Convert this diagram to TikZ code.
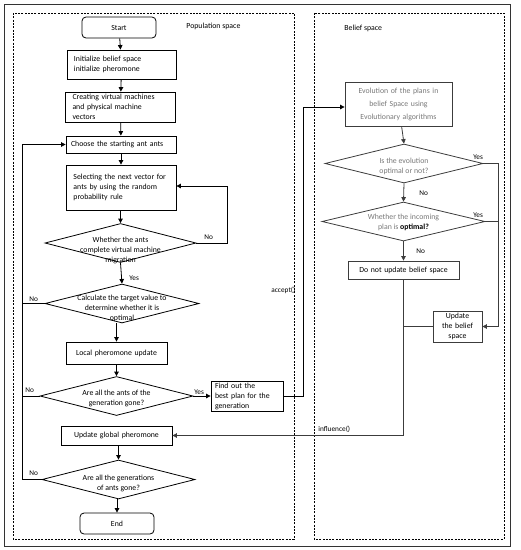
\documentclass[tikz,border=0pt]{standalone}
\usepackage{fontspec}
\setmainfont{Carlito}
\usepackage{tikz}
\usetikzlibrary{arrows.meta,shapes.geometric,positioning}
\definecolor{lightgrey}{RGB}{120,120,120}
\definecolor{linegrey} {RGB}{60,60,60}
\tikzset{
  procbox/.style={draw, align=left, font=\fontsize{7.8}{10}\selectfont,
                  inner sep=0pt, text width=#1},
  procbox/.default=2.4cm,
  termbox/.style={draw, rounded corners=4pt, font=\fontsize{7.8}{10}\selectfont,
                  minimum width=74pt, minimum height=21pt, inner sep=1pt},
  decision/.style={draw, diamond, inner sep=0pt, minimum width=#1,
                   minimum height=39pt},
  dtext/.style={align=center, font=\fontsize{7.8}{10}\selectfont,
                inner sep=0pt},
  lbl/.style={font=\fontsize{7.3}{8}\selectfont, inner sep=1pt},
  spacebox/.style={draw, dash pattern=on 2pt off 1.3pt, line width=0.8pt},
  arr/.style={-{Triangle[length=4.5pt,width=4.5pt]}, line width=0.8pt},
  ln/.style={line width=0.8pt},
}
\begin{document}
\begin{tikzpicture}[x=1pt,y=-1pt,line width=0.8pt]
  \useasboundingbox (0,0) rectangle (521,550);
  \draw[line width=1pt, black!80] (4,4) rectangle (510,546);
  % the two spaces
  \draw[spacebox] (13,13) rectangle (294,539);
  \draw[spacebox] (314,13) rectangle (504,539);
  \node[lbl, font=\fontsize{7.8}{9}\selectfont, anchor=west] (poplbl) at (185,26) {Population space};
  \node[lbl, font=\fontsize{7.8}{9}\selectfont, anchor=west] (beliefl) at (343,28) {Belief space};

  %% population space
  \node[termbox] (start) at (119,27.5) {Start};
  \node[procbox=95pt, minimum width=109pt, minimum height=29pt, inner xsep=7pt]
       (init) at (121.5,64.5) {Initialize belief space\\initialize pheromone};
  \node[procbox=96pt, minimum width=110pt, minimum height=30pt, inner xsep=7pt]
       (vms) at (120.5,107) {Creating virtual machines\\and physical machine\\vectors};
  \node[procbox=100pt, minimum width=110pt, minimum height=17pt, inner xsep=5pt]
       (choose) at (121,144.5) {Choose the starting ant ants};
  \node[procbox=95pt, minimum width=110pt, minimum height=45pt, inner xsep=7.5pt]
       (select) at (121,187.5) {\makebox[95pt][s]{Selecting the next vector for}\\
       \makebox[95pt][s]{ants by using the random}\\probability rule};
  \node[decision=151pt] (dmig) at (120.5,243) {};
  \node[dtext] (dmigt) at (120.5,250) {Whether the ants\\complete virtual machine\\migration};
  \node[decision=154pt] (dopt) at (122,303.5) {};
  \node[dtext] (doptt) at (122,308) {Calculate the target value to\\determine whether it is\\optimal};
  \node[procbox=100pt, align=center, minimum width=101pt, minimum height=22pt]
       (local) at (116.5,353) {Local pheromone update};
  \node[decision=153pt] (dants) at (116.5,396) {};
  \node[dtext] (dantst) at (116.5,398) {Are all the ants of the\\generation gone?};
  \node[procbox=64pt, minimum width=68pt, minimum height=30pt, inner xsep=4pt]
       (best) at (247,396) {Find out the\\best plan for the\\generation};
  \node[procbox=100pt, align=center, minimum width=111pt, minimum height=19pt]
       (global) at (116.5,435.5) {Update global pheromone};
  \node[decision=153pt] (dgen) at (118.5,479.5) {};
  \node[dtext] (dgent) at (118.5,483) {Are all the generations\\of ants gone?};
  \node[termbox] (end) at (117,523.5) {End};

  %% belief space
  \node[procbox=100pt, align=center, minimum width=107pt, minimum height=44pt,
        draw=linegrey, text=lightgrey, font=\fontsize{7.8}{13}\selectfont]
       (evol) at (398.5,104) {Evolution of the plans in\\belief Space using\\Evolutionary algorithms};
  \node[decision=158pt, draw=linegrey] (devol) at (404,163.5) {};
  \node[dtext, text=lightgrey] (devolt) at (404,166.5) {Is the evolution\\optimal or not?};
  \node[decision=163pt, draw=linegrey] (dinc) at (403.5,221.5) {};
  \node[dtext, text=lightgrey] (dinct) at (403.5,222) {Whether the incoming\\plan is \textcolor{black}{\textbf{optimal?}}};
  \node[procbox=105pt, align=center, minimum width=111pt, minimum height=18pt, draw=linegrey]
       (noupd) at (403.5,270) {Do not update belief space};
  \node[procbox=46pt, align=center, minimum width=49pt, minimum height=31pt, draw=linegrey]
       (upd) at (457.5,326.5) {Update\\the belief\\space};
  \coordinate (yesr) at (498,163.5);
  \coordinate (acc) at (303,107);
  \coordinate (infl) at (403.5,435.5);
  \coordinate (back) at (22,144.5);

  %% main flow
  \draw[arr] (start) -- (init);
  \draw[arr] (init) -- (vms);
  \draw[arr] (vms) -- (choose);
  \draw[arr] (choose) -- (select);
  \draw[arr] (select.south -| dmig.north) -- (dmig.north);
  \draw[arr] (dmig.south) -- (dopt.north);
  \draw[arr] (dopt.south -| local.north) -- (local.north);
  \draw[arr] (local.south) -- (dants.north);
  \draw[arr] (global.south -| dgen.north) -- (dgen.north);
  \draw[arr] (dgen.south -| end.north) -- (end.north);
  \draw[arr] (dmig.east) -- ++(31,0) |- (select.east |- 0,186);
  \draw[arr] (dgen.west) -| (back) -- (choose.west);
  \draw[ln] (dopt.west) -- (dopt.west -| back);
  \draw[ln] (dants.west) -- (dants.west -| back);
  \draw[arr] (dants.east) -- (best.west);
  \draw[arr] (best.east) -| (acc) -- (evol.west |- acc);

  %% belief flow
  \draw[arr, linegrey] (evol) -- (devol.north);
  \draw[arr, linegrey] (devol.south) -- (dinc.north);
  \draw[arr, linegrey] (dinc.south) -- (noupd.north);
  \draw[arr, linegrey] (devol.east) -- (yesr) |- (upd.east);
  \draw[ln, linegrey] (dinc.east) -- (dinc.east -| yesr);
  \draw[ln, linegrey] (upd.west) -- (upd.west -| infl);
  \draw[arr, linegrey] (noupd.south) -- (infl) -- (global.east);

  %% labels
  \node[lbl, anchor=west] (lno1) at (203,237) {No};
  \node[lbl, anchor=west] (lyes1) at (128,278) {Yes};
  \node[lbl, anchor=west] (lno2) at (28,299) {No};
  \node[lbl, anchor=west] (lno3) at (24,390) {No};
  \node[lbl, anchor=west] (lyes3) at (193,392) {Yes};
  \node[lbl, anchor=west] (lno4) at (28,473) {No};
  \node[lbl, anchor=west] (lacc) at (270,290) {accept()};
  \node[lbl, anchor=west] (linfl) at (317,429) {influence()};
  \node[lbl, anchor=west] (lyesb1) at (472,157) {Yes};
  \node[lbl, anchor=west] (lnob1) at (418,193) {No};
  \node[lbl, anchor=west] (lyesb2) at (472,215) {Yes};
  \node[lbl, anchor=west] (lnob2) at (415,251) {No};
\end{tikzpicture}
\end{document}
